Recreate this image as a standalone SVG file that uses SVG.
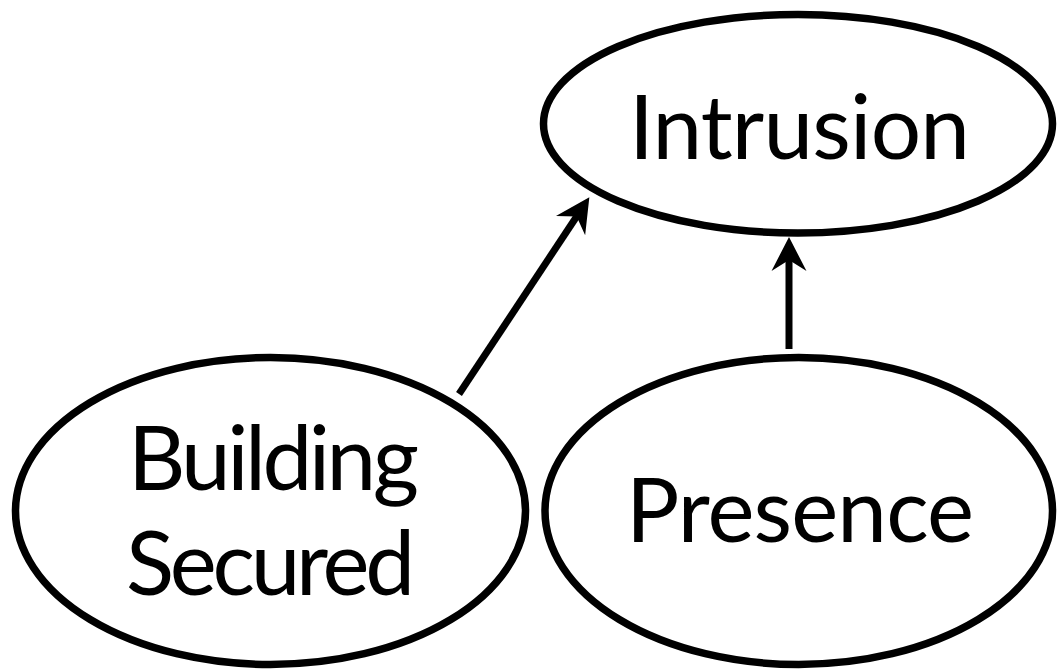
<svg xmlns="http://www.w3.org/2000/svg" width="1057" height="669" viewBox="0 0 1057 669">
<style>
.node ellipse{fill:#fff;stroke:#000;stroke-width:7.5}
.node text{font-family:Lato,"Open Sans","DejaVu Sans",sans-serif;font-size:89px;fill:#000;text-anchor:middle}
.edge{stroke:#000;stroke-width:7;fill:none;marker-end:url(#arrow)}
</style>
<defs>
<marker id="arrow" markerUnits="userSpaceOnUse" orient="auto" refX="0" refY="0" markerWidth="60" markerHeight="60" overflow="visible">
<path d="M20,0 L-14,-17.5 L-3,0 L-14,17.5 Z" fill="#000"/>
</marker>
</defs>
<rect width="1057" height="669" fill="#fff"/>
<g id="intrusion" class="node">
<ellipse cx="798" cy="123.75" rx="254.5" ry="109.25"/>
<text x="799.5" y="159.3" textLength="341" lengthAdjust="spacing">Intrusion</text>
</g>
<g id="building-secured" class="node">
<ellipse cx="270.5" cy="511" rx="255" ry="153.5"/>
<text x="273.5" y="490" textLength="291" lengthAdjust="spacing">Building</text>
<text x="270.5" y="595" textLength="289" lengthAdjust="spacing">Secured</text>
</g>
<g id="presence" class="node">
<ellipse cx="798.75" cy="511" rx="253.75" ry="153.5"/>
<text x="800" y="541.7" textLength="348" lengthAdjust="spacing">Presence</text>
</g>
<g id="connectors">
<line class="edge" x1="459" y1="394" x2="578.3" y2="214"/>
<line class="edge" x1="789" y1="349" x2="789" y2="257"/>
</g>
</svg>
